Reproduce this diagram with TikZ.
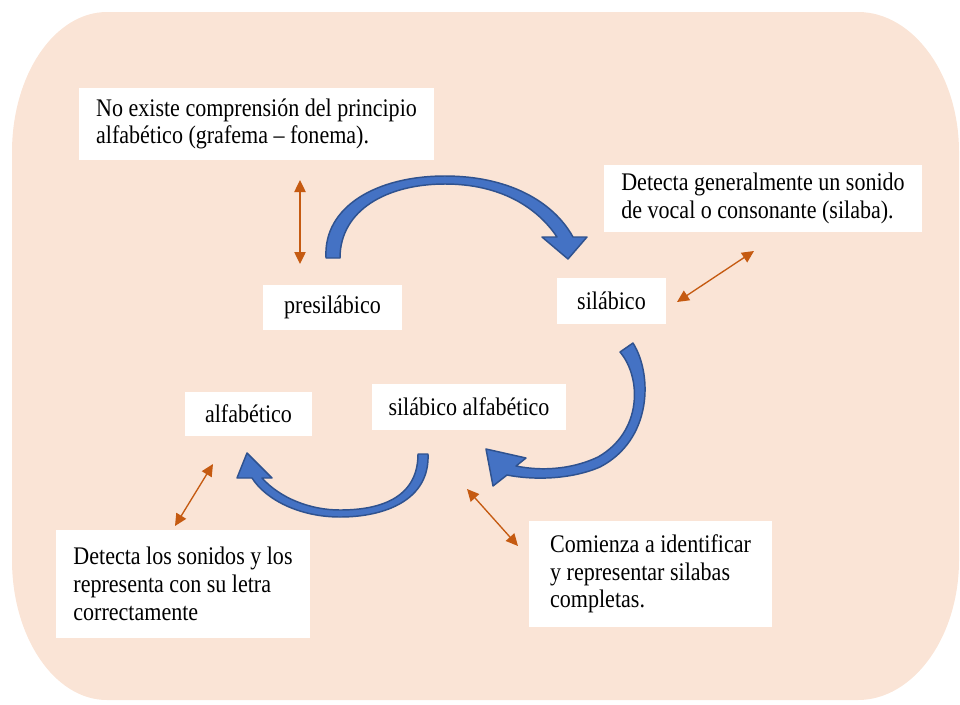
\documentclass[tikz,border=0pt]{standalone}
\usepackage{fontspec}
\setmainfont[FakeStretch=0.87]{Liberation Serif}
\usetikzlibrary{arrows.meta}
\definecolor{bgpeach}{HTML}{FAE4D6}
\definecolor{arrowblue}{HTML}{4472C4}
\definecolor{arrowedge}{HTML}{2F528F}
\definecolor{linkorange}{HTML}{C55A11}
\begin{document}
\begin{tikzpicture}[x=0.75pt,y=-0.75pt,
  textbox/.style={fill=white, inner sep=0pt, align=left, font=\fontsize{19}{20.8}\selectfont},
  curvearrow/.style={fill=arrowblue, draw=arrowedge, line width=1.1pt, line join=round},
  link/.style={draw=linkorange, line width=1pt, {Triangle[length=9pt,width=8.5pt]}-{Triangle[length=9pt,width=8.5pt]}}]
\useasboundingbox (0,0) rectangle (960,704);
% background
\fill[bgpeach] (12,152) .. controls (12,74.7) and (54.6,12) .. (107,12)
  -- (858,12) .. controls (913.2,12) and (959,74.7) .. (959,152)
  -- (959,560) .. controls (959,637.3) and (913.2,700) .. (858,700)
  -- (107,700) .. controls (54.6,700) and (12,637.3) .. (12,560) -- cycle;
% boxes
\node[textbox, minimum width=266.25pt, minimum height=54pt] (n1) at (256.5,124)
  {No existe comprensión del principio\\alfabético (grafema – fonema).};
\node[textbox, minimum width=238.5pt, minimum height=50.25pt] (n2) at (763,198.5)
  {Detecta generalmente un sonido\\de vocal o consonante (silaba).};
\node[textbox, minimum width=104.25pt, minimum height=33.75pt] (pre) at (332.5,307.5) {presilábico};
\node[textbox, minimum width=81.75pt, minimum height=34.5pt] (sil) at (611.5,301) {silábico};
\node[textbox, minimum width=95.25pt, minimum height=33pt] (alf) at (248.5,414) {alfabético};
\node[textbox, minimum width=145.5pt, minimum height=34.5pt] (silalf) at (469,407) {silábico alfabético};
\node[textbox, minimum width=190.5pt, minimum height=81pt] (n7) at (183,584)
  {Detecta los sonidos y los\\representa con su letra\\correctamente};
\node[textbox, minimum width=182.25pt, minimum height=79.5pt] (n8) at (650.5,574)
  {Comienza a identificar\\y representar silabas\\completas.};
% curved arrows
\filldraw[curvearrow] (326,258) .. controls (323,207) and (376,176) .. (445,176)
  .. controls (508,176) and (553,201) .. (573,237)
  -- (587,237) -- (568,259) -- (542,237) -- (557,237)
  .. controls (537,207) and (500,184) .. (445,184)
  .. controls (387,184) and (340,210) .. (340,258) -- cycle;
\filldraw[curvearrow] (633,343) .. controls (653,375) and (652,440) .. (600,467)
  .. controls (570,480) and (532,480) .. (507,475)
  -- (493,486) -- (486,449) -- (526,458) -- (516,466)
  .. controls (545,472) and (575,468) .. (598,457)
  .. controls (642,432) and (642,378) .. (620,352) -- cycle;
\filldraw[curvearrow] (428,454) .. controls (430,500) and (385,517) .. (340,517)
  .. controls (300,517) and (266,500) .. (252,478)
  -- (237,478) -- (247,453) -- (272,478) -- (262,478)
  .. controls (280,498) and (310,510) .. (340,510)
  .. controls (385,510) and (418,495) .. (418,454) -- cycle;
% orange links
\coordinate (o1a) at (300,180); \coordinate (o1b) at (300,264);
\coordinate (o2a) at (677,302); \coordinate (o2b) at (754,251);
\coordinate (o3a) at (175,526); \coordinate (o3b) at (213,464);
\coordinate (o4a) at (467,489); \coordinate (o4b) at (518,546);
\draw[link] (o1a) -- (o1b);
\draw[link] (o2a) -- (o2b);
\draw[link] (o3a) -- (o3b);
\draw[link] (o4a) -- (o4b);
\end{tikzpicture}
\end{document}
